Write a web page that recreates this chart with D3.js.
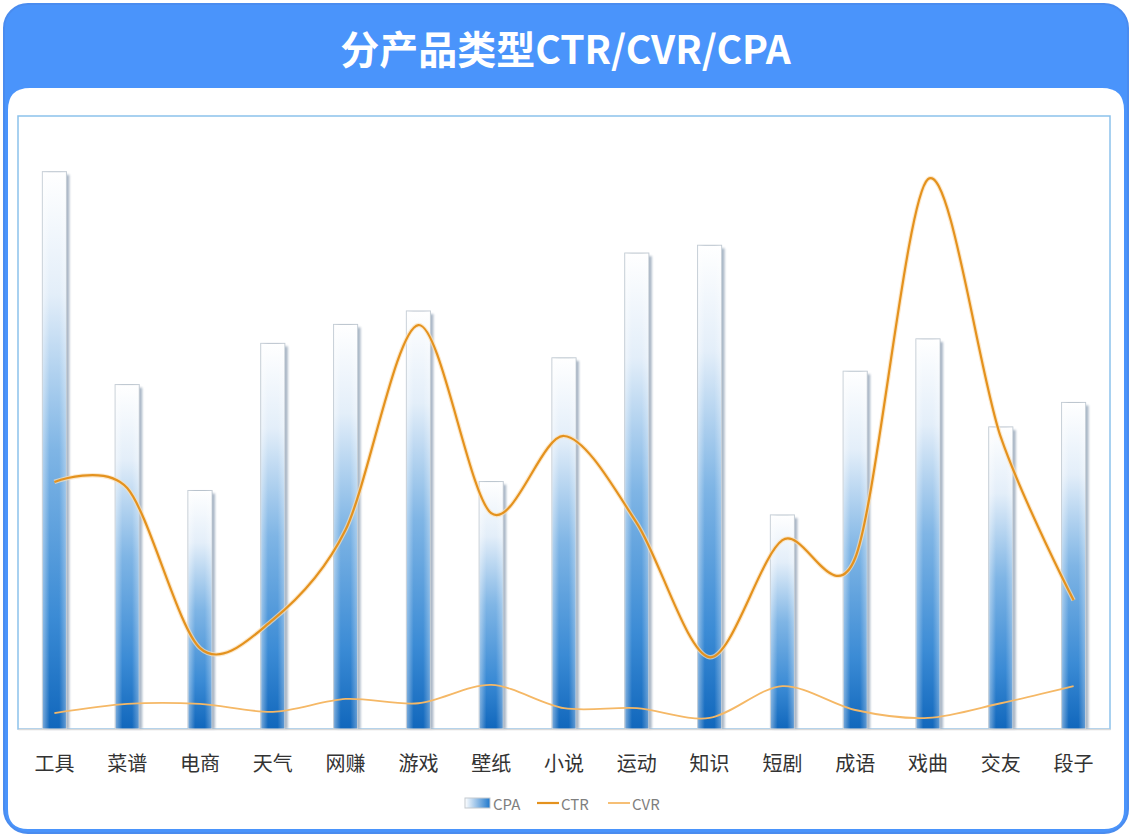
<!DOCTYPE html>
<html>
<head>
<meta charset="utf-8">
<script src="https://cdn.jsdelivr.net/npm/d3@7"></script>
<style>
  body { margin: 0; background: #fff; }
  svg text { font-family: "Noto Sans CJK SC", "Noto Sans", sans-serif; }
</style>
</head>
<body>
<svg id="chart"></svg>
<script>
// data
const categories = ['工具', '菜谱', '电商', '天气', '网赚', '游戏', '壁纸', '小说', '运动', '知识', '短剧', '成语', '戏曲', '交友', '段子']
const cpa = [50.0, 30.9, 21.4, 34.6, 36.3, 37.5, 22.2, 33.3, 42.7, 43.4, 19.2, 32.1, 35.0, 27.1, 29.3]   // 元
const ctr = [4.03, 3.93, 1.32, 1.78, 3.25, 6.59, 3.52, 4.78, 3.36, 1.17, 3.08, 2.79, 8.97, 4.76, 2.10]  // %
const cvr = [0.26, 0.41, 0.41, 0.28, 0.49, 0.42, 0.72, 0.34, 0.34, 0.18, 0.70, 0.31, 0.18, 0.42, 0.70]  // %
const seriesNames = ['CPA', 'CTR', 'CVR']
const title = '分产品类型CTR/CVR/CPA'

const W = 1133, H = 839
const plot = { left: 18, right: 1110, top: 116, bottom: 729 }

const svg = d3.select('#chart').attr('width', W).attr('height', H)
const defs = svg.append('defs')

// bar gradient, white at the top to blue at the bottom
const barGrad = defs.append('linearGradient').attr('id', 'barGrad')
  .attr('x1', 0).attr('y1', 0).attr('x2', 0).attr('y2', 1)
barGrad.selectAll('stop')
  .data([[0, '#ffffff'], [0.22, '#e3eef9'], [0.5, '#7fb5e5'], [0.8, '#3b8bd5'], [1, '#1167bc']])
  .enter().append('stop')
  .attr('offset', d => d[0]).attr('stop-color', d => d[1])

const sheen = defs.append('linearGradient').attr('id', 'sheen')
  .attr('x1', 0).attr('y1', 0).attr('x2', 1).attr('y2', 0)
sheen.selectAll('stop')
  .data([[0, 0.45], [0.3, 0], [0.7, 0], [1, 0.35]])
  .enter().append('stop')
  .attr('offset', d => d[0]).attr('stop-color', '#fff').attr('stop-opacity', d => d[1])

const legendGrad = defs.append('linearGradient').attr('id', 'legendGrad')
  .attr('x1', 0).attr('y1', 0).attr('x2', 1).attr('y2', 0)
legendGrad.append('stop').attr('offset', 0).attr('stop-color', '#ffffff')
legendGrad.append('stop').attr('offset', 1).attr('stop-color', '#1f78cc')

defs.append('filter').attr('id', 'blur').attr('x', '-50%').attr('width', '200%')
  .append('feGaussianBlur').attr('stdDeviation', 1.3)

// card frame
svg.append('rect')
  .attr('x', 4).attr('y', 4).attr('width', 1124).attr('height', 829)
  .attr('rx', 24).attr('fill', '#4a94fb').attr('stroke', '#4a8cef').attr('stroke-width', 2)

svg.append('path')
  .attr('d', (() => {
    const x0 = 8, x1 = 1124, y0 = 88, y1 = 829, r = 22, rb = 20
    return `M${x0},${y0 + r} Q${x0},${y0} ${x0 + r},${y0} L${x1 - r},${y0} Q${x1},${y0} ${x1},${y0 + r}
      L${x1},${y1 - rb} Q${x1},${y1} ${x1 - rb},${y1} L${x0 + rb},${y1} Q${x0},${y1} ${x0},${y1 - rb} Z`
  })())
  .attr('fill', '#fff')

svg.append('text')
  .attr('x', W / 2 - 1).attr('y', 47)
  .attr('text-anchor', 'middle').attr('dominant-baseline', 'central')
  .attr('fill', '#fff').attr('font-size', 39).attr('font-weight', 700)
  .text(title)

// chart box
svg.append('rect')
  .attr('x', plot.left).attr('y', plot.top)
  .attr('width', plot.right - plot.left).attr('height', plot.bottom - plot.top)
  .attr('fill', 'none').attr('stroke', '#8cc2ec').attr('stroke-width', 1.5)

const x = d3.scaleBand()
  .domain(categories)
  .range([plot.left, plot.right])
  .padding(0)

const cx = d => x(d) + x.bandwidth() / 2
const barW = x.bandwidth() * 0.33

const yBar = d3.scaleLinear().domain([0, 55]).range([plot.bottom, plot.top])
const yRate = d3.scaleLinear().domain([0, 10]).range([plot.bottom, plot.top])

const chart = svg.append('g')

const bars = chart.selectAll('.bar').data(categories)
  .enter().append('g').attr('class', 'bar')

bars.append('rect')
  .attr('x', d => cx(d) - barW / 2 + 3)
  .attr('y', (d, i) => yBar(cpa[i]) + 3)
  .attr('width', barW)
  .attr('height', (d, i) => plot.bottom - yBar(cpa[i]) - 3)
  .attr('fill', '#7d91a8').attr('opacity', 0.65)
  .attr('filter', 'url(#blur)')

bars.append('rect')
  .attr('x', d => cx(d) - barW / 2)
  .attr('y', (d, i) => yBar(cpa[i]))
  .attr('width', barW)
  .attr('height', (d, i) => plot.bottom - yBar(cpa[i]))
  .attr('fill', 'url(#barGrad)')
  .attr('stroke', '#b9c3cd').attr('stroke-width', 1)

bars.append('rect')
  .attr('x', d => cx(d) - barW / 2)
  .attr('y', (d, i) => yBar(cpa[i]))
  .attr('width', barW)
  .attr('height', (d, i) => plot.bottom - yBar(cpa[i]))
  .attr('fill', 'url(#sheen)')

// x axis
const xAxis = chart.append('g')
  .attr('transform', `translate(0,${plot.bottom})`)
  .call(d3.axisBottom(x).tickSize(0).tickSizeOuter(0).tickPadding(28))
xAxis.select('.domain').attr('stroke', '#d9d9d9').attr('stroke-width', 1.5)
xAxis.selectAll('text')
  .attr('font-size', 20).attr('fill', '#333')
  .style('font-family', '"Noto Sans CJK SC", sans-serif')

// lines
const line = y => d3.line()
  .x(d => cx(d))
  .y((d, i) => y[i])
  .curve(d3.curveCardinal.tension(0.1))

const ctrY = ctr.map(v => yRate(v))
const cvrY = cvr.map(v => yRate(v))

chart.append('path')
  .attr('d', line(ctrY)(categories))
  .attr('fill', 'none').attr('stroke', '#fbe0b8').attr('stroke-width', 4.5).attr('opacity', 0.7)
chart.append('path')
  .attr('d', line(ctrY)(categories))
  .attr('fill', 'none').attr('stroke', '#e4921e').attr('stroke-width', 2.2)

chart.append('path')
  .attr('d', line(cvrY)(categories))
  .attr('fill', 'none').attr('stroke', '#f5b866').attr('stroke-width', 1.8)

// legend
const legend = svg.append('g').attr('transform', 'translate(0,803)')
const legendX = [465, 537, 608]
const legendStyles = [
  { type: 'rect' },
  { type: 'line', color: '#e4921e', width: 2.2 },
  { type: 'line', color: '#f5b866', width: 1.8 }
]
seriesNames.forEach((name, i) => {
  const g = legend.append('g').attr('transform', `translate(${legendX[i]},0)`)
  const st = legendStyles[i]
  if (st.type === 'rect') {
    g.append('rect').attr('x', 0).attr('y', -5).attr('width', 25).attr('height', 10)
      .attr('fill', 'url(#legendGrad)').attr('stroke', '#c3c9cf').attr('stroke-width', 1)
  } else {
    g.append('line').attr('x1', 0).attr('x2', 22).attr('y1', 0).attr('y2', 0)
      .attr('stroke', st.color).attr('stroke-width', st.width)
  }
  g.append('text').attr('x', i === 0 ? 28 : 24).attr('y', 0)
    .attr('dominant-baseline', 'central')
    .attr('font-size', 15).attr('fill', '#7f7f7f')
    .text(name)
})
</script>
</body>
</html>
